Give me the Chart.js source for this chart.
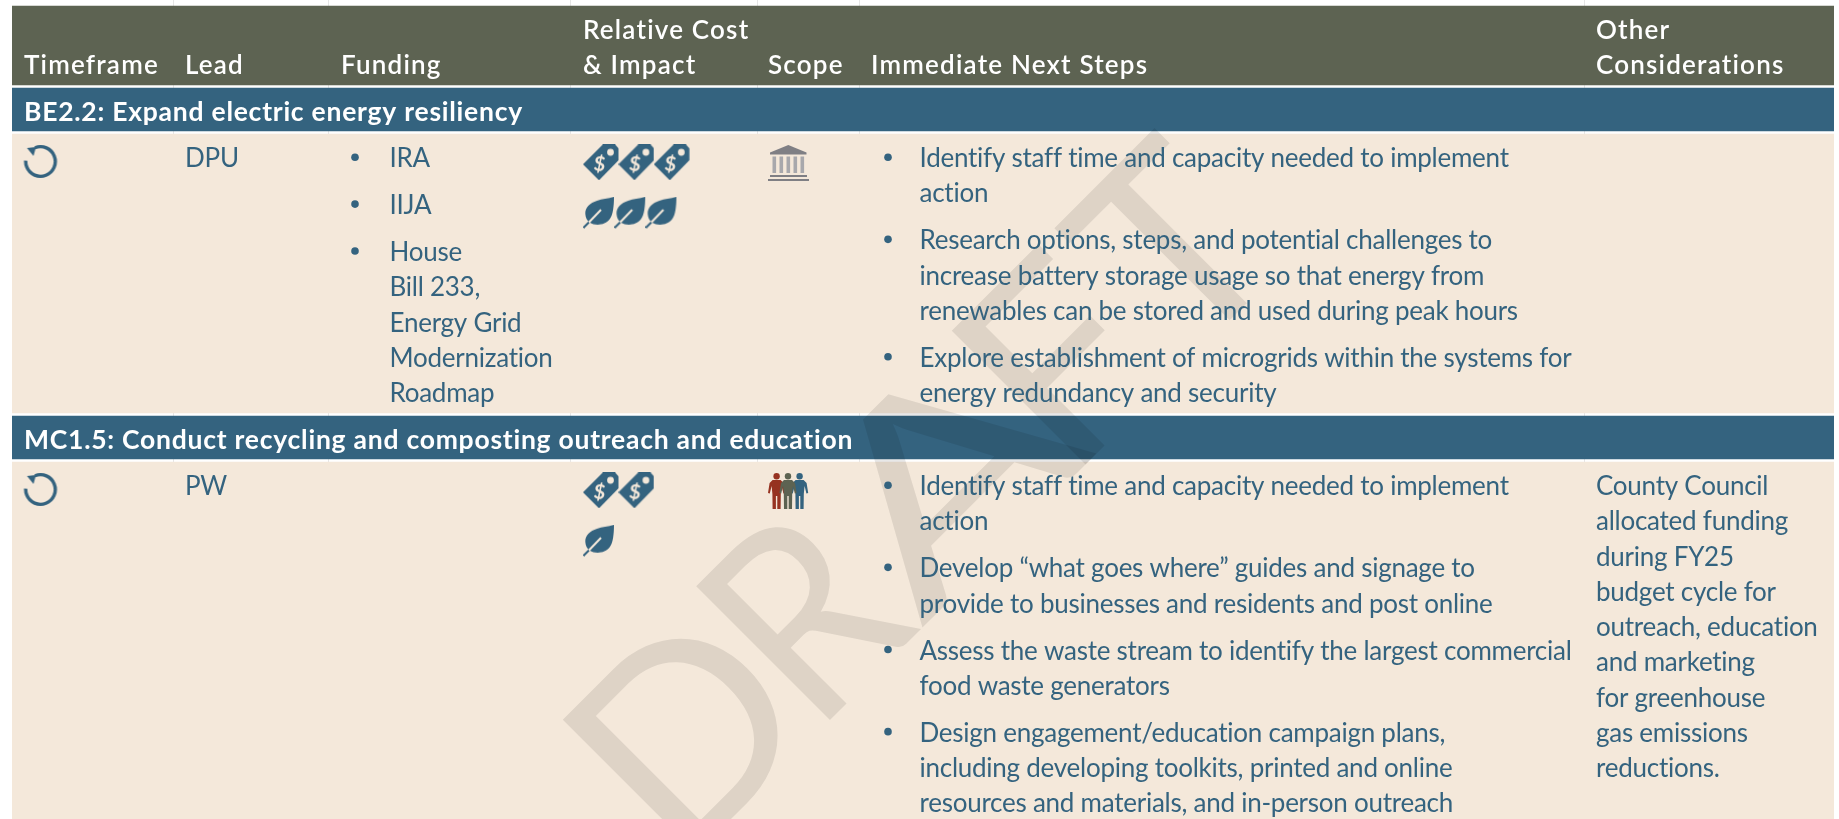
<!DOCTYPE html>
<html>
<head>
<meta charset="utf-8">
<title>Action table</title>
<script src="https://cdn.jsdelivr.net/npm/chart.js@4"></script>
<style>
  html, body { margin: 0; padding: 0; background: #fff; overflow: hidden; }
  canvas { display: block; }
</style>
</head>
<body>
<canvas id="c" width="1839" height="819"></canvas>
<script>
// table content
var headers = [["Timeframe"], ["Lead"], ["Funding"], ["Relative Cost", "& Impact"], ["Scope"], ["Immediate Next Steps"], ["Other", "Considerations"]];
var actions = ["BE2.2: Expand electric energy resiliency", "MC1.5: Conduct recycling and composting outreach and education"];
var leads = ["DPU", "PW"];
var funding = [
    [["IRA"], ["IIJA"], ["House", "Bill 233,", "Energy Grid", "Modernization", "Roadmap"]],
    []
];
var costLevels = [3, 2];
var impactLevels = [3, 1];
var scopes = ["bank", "people"];
var nextSteps = [
    [
        ["Identify staff time and capacity needed to implement", "action"],
        ["Research options, steps, and potential challenges to", "increase battery storage usage so that energy from", "renewables can be stored and used during peak hours"],
        ["Explore establishment of microgrids within the systems for", "energy redundancy and security"]
    ],
    [
        ["Identify staff time and capacity needed to implement", "action"],
        ["Develop \u201cwhat goes where\u201d guides and signage to", "provide to businesses and residents and post online"],
        ["Assess the waste stream to identify the largest commercial", "food waste generators"],
        ["Design engagement/education campaign plans,", "including developing toolkits, printed and online", "resources and materials, and in-person outreach"]
    ]
];
var considerations = [
    [],
    ["County Council", "allocated funding", "during FY25", "budget cycle for", "outreach, education", "and marketing", "for greenhouse", "gas emissions", "reductions."]
];

// layout, in the units of the two hidden scales (which are 1:1 with the page)
var headerBand = [6, 85];
var actionBands = [[88, 131], [416, 459]];
var rowBands = [[134, 413], [462, 819]];
var columnX = [24, 185, 341, 583, 768, 871, 1596];
var columnRules = [173, 328, 570, 757, 859, 1584];
var bulletFundingX = 355, textFundingX = 389.5;
var bulletStepX = 888, textStepX = 919.5;
var lineGap = 35.25, paraGap = 46.9;

var GREEN = '#5d6352', BLUE = '#34637f', CREAM = '#f4e8da';
var FONT = 'Lato, sans-serif';

function icon(w, h, paint) {
    var cv = document.createElement('canvas');
    cv.width = w;
    cv.height = h;
    paint(cv.getContext('2d'));
    return cv;
}

var tagIcon = icon(36, 36, function (g) {
    g.fillStyle = BLUE;
    g.beginPath();
    g.moveTo(0, 20);
    g.lineTo(16, 36);
    g.lineTo(35.5, 16);
    g.lineTo(35.5, 4);
    g.lineTo(32, 0);
    g.lineTo(20, 0);
    g.closePath();
    g.fill();
    g.fillStyle = CREAM;
    g.beginPath();
    g.arc(27.5, 8, 3.4, 0, Math.PI * 2);
    g.fill();
    g.translate(16.5, 20);
    g.rotate(0.12);
    g.font = 'bold 20px ' + FONT;
    g.textAlign = 'center';
    g.textBaseline = 'middle';
    g.fillText('$', 0, 0);
});

var leafIcon = icon(32, 32, function (g) {
    g.fillStyle = BLUE;
    g.beginPath();
    g.moveTo(31, 0);
    g.bezierCurveTo(25, 2, 19, 2, 14, 4);
    g.bezierCurveTo(7, 6, 2, 11, 2.3, 17);
    g.bezierCurveTo(2.5, 21, 4, 24, 7, 26);
    g.bezierCurveTo(12, 29, 22, 29, 27, 22);
    g.bezierCurveTo(30, 18, 31, 9, 31, 0);
    g.closePath();
    g.fill();
    g.lineWidth = 2;
    g.strokeStyle = BLUE;
    g.beginPath();
    g.moveTo(0.5, 31);
    g.lineTo(6, 25.5);
    g.stroke();
    g.strokeStyle = CREAM;
    g.beginPath();
    g.moveTo(6, 25.5);
    g.lineTo(18, 13);
    g.stroke();
});

var bankIcon = icon(41, 36, function (g) {
    g.fillStyle = '#7f7f84';
    g.beginPath();
    g.moveTo(20.3, 0);
    g.lineTo(38.5, 7.5);
    g.lineTo(38.5, 9.5);
    g.lineTo(2, 9.5);
    g.lineTo(2, 7.5);
    g.closePath();
    g.fill();
    g.fillRect(2, 30, 37, 2);
    g.fillRect(0, 34, 41, 2);
    g.fillStyle = '#a8a8ac';
    [4.5, 11.5, 18.5, 25.5, 32.5].forEach(function (x) {
        g.fillRect(x, 11.5, 3.6, 16.5);
    });
});

function person(g, cx, color) {
    g.fillStyle = color;
    g.beginPath();
    g.arc(cx, 3.2, 3.2, 0, Math.PI * 2);
    g.fill();
    g.beginPath();
    g.moveTo(cx - 4, 7);
    g.lineTo(cx + 4, 7);
    g.lineTo(cx + 7, 10);
    g.lineTo(cx + 8.6, 20);
    g.lineTo(cx + 6.8, 20.5);
    g.lineTo(cx + 5, 13);
    g.lineTo(cx + 4.2, 21);
    g.lineTo(cx + 4, 36);
    g.lineTo(cx + 0.7, 36);
    g.lineTo(cx + 0.7, 23);
    g.lineTo(cx - 0.7, 23);
    g.lineTo(cx - 0.7, 36);
    g.lineTo(cx - 4, 36);
    g.lineTo(cx - 4.2, 21);
    g.lineTo(cx - 5, 13);
    g.lineTo(cx - 6.8, 20.5);
    g.lineTo(cx - 8.6, 20);
    g.lineTo(cx - 7, 10);
    g.closePath();
    g.fill();
}

var peopleIcon = icon(41, 36, function (g) {
    person(g, 8.6, '#963220');
    person(g, 31.6, BLUE);
    person(g, 20, GREEN);
});

var refreshIcon = icon(36, 36, function (g) {
    g.strokeStyle = BLUE;
    g.fillStyle = BLUE;
    g.lineWidth = 3.4;
    g.beginPath();
    g.arc(18, 18.5, 14.8, -Math.PI * 0.62, Math.PI * 1.02);
    g.stroke();
    g.beginPath();
    g.moveTo(4.5, 5);
    g.lineTo(13.5, 4);
    g.lineTo(11, 13);
    g.closePath();
    g.fill();
});

var scopeIcons = { bank: bankIcon, people: peopleIcon };

// one scatter point per level, so icons follow the data
function pointsFor(levels, x0, step, yOffset) {
    var pts = [];
    levels.forEach(function (n, r) {
        for (var i = 0; i < n; i++) {
            pts.push({ x: x0 + step * i, y: rowBands[r][0] + yOffset });
        }
    });
    return pts;
}

function iconSet(data, style) {
    return {
        type: 'scatter',
        xAxisID: 'xPos',
        data: data,
        pointStyle: style,
        pointRadius: 20,
        pointHoverRadius: 20,
        order: 0
    };
}

function band(edges, color) {
    return {
        type: 'bar',
        data: [edges],
        backgroundColor: color,
        grouped: false,
        barPercentage: 1,
        categoryPercentage: 1,
        borderWidth: 0,
        order: 1
    };
}

var datasets = [];
datasets.push(iconSet(pointsFor([1, 1], 40.5, 0, 27), refreshIcon));
datasets.push(iconSet(pointsFor(costLevels, 601, 35.4, 28.3), tagIcon));
datasets.push(iconSet(pointsFor(impactLevels, 599, 31.2, 78.7), leafIcon));
scopes.forEach(function (s, r) {
    var levels = scopes.map(function (v, i) { return i === r ? 1 : 0; });
    datasets.push(iconSet(pointsFor(levels, 788.5, 0, 29), scopeIcons[s]));
});
datasets.push(band(headerBand, GREEN));
actionBands.forEach(function (b) { datasets.push(band(b, BLUE)); });
rowBands.forEach(function (b) { datasets.push(band(b, CREAM)); });

// DRAFT watermark: baseline runs up and to the right at 45 degrees
var stamp = {
    x: 694, y: 856, size: 264,
    letters: [
        { c: 'D', at: 0, w: 172 },
        { c: 'R', at: 189, w: 133 },
        { c: 'A', at: 322, w: 252 },
        { c: 'F', at: 550, w: 130 },
        { c: 'T', at: 695, w: 146 }
    ]
};

var tablePlugin = {
    id: 'tableText',
    afterDatasetsDraw: function (chart) {
        var ctx = chart.ctx;
        var xs = chart.scales.xPos, ys = chart.scales.y;

        function put(str, x, y, font, color, spacing) {
            ctx.font = font;
            ctx.fillStyle = color;
            ctx.letterSpacing = (spacing || 0) + 'px';
            ctx.fillText(str, xs.getPixelForValue(x), ys.getPixelForValue(y));
        }

        function bullet(x, y) {
            ctx.fillStyle = BLUE;
            ctx.beginPath();
            ctx.arc(xs.getPixelForValue(x), ys.getPixelForValue(y - 10), 3.8, 0, Math.PI * 2);
            ctx.fill();
        }

        ctx.save();
        ctx.textBaseline = 'alphabetic';
        ctx.textAlign = 'left';

        // watermark
        ctx.save();
        ctx.translate(xs.getPixelForValue(stamp.x), ys.getPixelForValue(stamp.y));
        ctx.rotate(-Math.PI / 4);
        ctx.fillStyle = 'rgba(0,0,0,0.09)';
        ctx.font = stamp.size + 'px ' + FONT;
        stamp.letters.forEach(function (l) {
            var m = ctx.measureText(l.c);
            var inkW = m.actualBoundingBoxRight + m.actualBoundingBoxLeft;
            var sx = l.w / inkW;
            ctx.save();
            ctx.translate(l.at + m.actualBoundingBoxLeft * sx, 0);
            ctx.scale(sx, 1);
            ctx.fillText(l.c, 0, 0);
            ctx.restore();
        });
        ctx.restore();

        var headFont = '600 26px ' + FONT;
        var bodyFont = '26px ' + FONT;
        var secFont = 'bold 26.5px ' + FONT;
        var bodySpace = -0.25;

        headers.forEach(function (lines, i) {
            var y = 74 - (lines.length - 1) * lineGap;
            lines.forEach(function (t, k) {
                put(t, columnX[i], y + k * lineGap, headFont, '#fff', 1.2);
            });
        });

        actions.forEach(function (t, i) {
            put(t, columnX[0], actionBands[i][0] + 32.7, secFont, '#fff', 0.75);
        });

        rowBands.forEach(function (b, r) {
            var y0 = b[0] + 33.2;
            put(leads[r], columnX[1], y0, bodyFont, BLUE, bodySpace);

            var y = y0;
            funding[r].forEach(function (p) {
                bullet(bulletFundingX, y);
                p.forEach(function (t, k) {
                    put(t, textFundingX, y, bodyFont, BLUE, bodySpace);
                    y += k < p.length - 1 ? lineGap : paraGap;
                });
            });

            y = y0;
            nextSteps[r].forEach(function (p) {
                bullet(bulletStepX, y);
                p.forEach(function (t, k) {
                    put(t, textStepX, y, bodyFont, BLUE, bodySpace);
                    y += k < p.length - 1 ? lineGap : paraGap;
                });
            });

            considerations[r].forEach(function (t, k) {
                put(t, columnX[6], y0 + k * lineGap, bodyFont, BLUE, bodySpace);
            });
        });
        ctx.restore();
    }
};

var myTable = new Chart(document.getElementById('c').getContext('2d'), {
    type: 'bar',
    data: { labels: ['table'], datasets: datasets },
    plugins: [tablePlugin],
    options: {
        responsive: false,
        animation: false,
        layout: { autoPadding: false, padding: { left: 12, right: 5, top: 0, bottom: 0 } },
        plugins: { legend: { display: false }, tooltip: { enabled: false } },
        scales: {
            x: { display: false },
            xPos: {
                type: 'linear',
                axis: 'x',
                position: 'bottom',
                offset: false,
                min: 12,
                max: 1834,
                afterBuildTicks: function (axis) {
                    axis.ticks = columnRules.map(function (v) { return { value: v }; });
                },
                ticks: { display: false },
                border: { display: false },
                grid: { offset: false, color: '#e6e6e6', drawTicks: false, lineWidth: 1 }
            },
            y: { display: false, min: 0, max: 819, reverse: true }
        }
    }
});
</script>
</body>
</html>
